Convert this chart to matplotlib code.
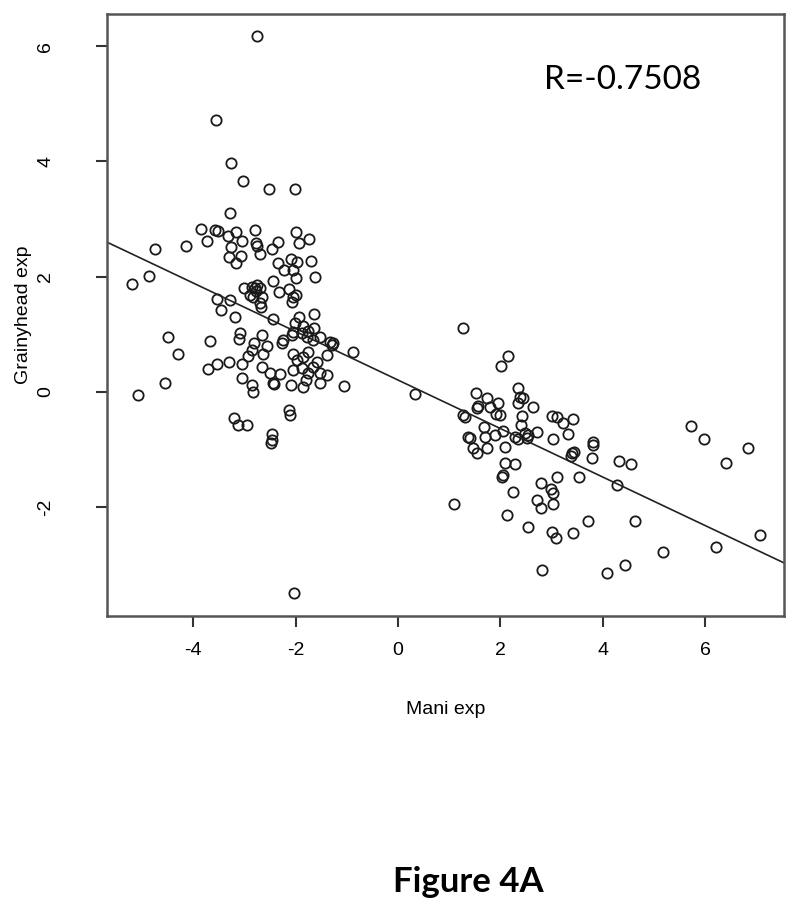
import matplotlib
matplotlib.use("Agg")
from matplotlib import pyplot as plt

# values
mani_exp = [
    -2.75, -3.55, -3.26, -3.03, -2.52, -2.01, -3.28, -3.85, -3.57, -3.52,
    -3.73, -3.32, -3.16, -3.05, -3.26, -2.79, -2.77, -2.75, -2.70, -3.30,
    -3.07, -3.16, -2.34, -2.46, -1.99, -1.93, -1.74, -2.34, -2.23, -2.09,
    -1.97, -2.05, -1.70, -1.99, -1.62, -4.75, -4.14, -5.20, -4.86, -2.44,
    -3.01, -2.79, -2.75, -2.70, -2.77, -2.66, -2.70, -2.68, -2.83, -2.32,
    -2.13, -2.05, -1.99, -2.07, -3.54, -3.28, -3.46, -3.18, -2.44, -1.64,
    -1.93, -2.01, -1.86, -1.76, -1.64, -1.88, -1.78, -1.66, -1.52, -1.33,
    -1.29, -2.05, -2.07, -1.27, -0.88, -1.05, -4.49, -4.30, -4.55, -5.08,
    -3.67, -3.09, -3.10, -2.66, -2.81, -2.27, -2.25, -2.56, -2.85, -2.64,
    -2.93, -2.05, -1.97, -1.86, -1.76, -1.58, -1.39, -3.71, -3.54, -3.30,
    -3.05, -2.66, -2.50, -2.30, -2.05, -1.88, -1.76, -1.66, -1.52, -1.39,
    -3.05, -2.85, -2.83, -2.44, -2.42, -2.09, -1.86, -1.80, -1.52, -2.13,
    -2.11, -3.20, -3.12, -2.95, -2.46, -2.48, -2.46, -2.03, -2.90, -2.85,
    0.33, 1.27, 2.15, 2.01, 1.52, 1.74, 1.56, 1.54, 1.80, 1.95,
    1.91, 1.99, 2.34, 2.38, 2.44, 2.34, 2.64, 2.42, 2.40, 1.27,
    1.31, 1.68, 1.37, 1.41, 1.70, 1.89, 2.05, 2.29, 2.34, 2.48,
    2.54, 2.52, 2.71, 1.46, 1.54, 1.74, 2.09, 3.01, 3.11, 3.22,
    3.42, 3.32, 3.03, 3.40, 3.44, 3.38, 2.09, 2.29, 2.03, 2.05,
    2.25, 2.79, 3.11, 2.99, 3.03, 2.71, 2.79, 3.03, 1.09, 2.13,
    2.54, 3.54, 3.81, 3.81, 3.79, 4.32, 4.55, 5.72, 5.98, 6.84,
    6.41, 4.28, 3.71, 4.63, 3.01, 3.09, 3.42, 5.18, 6.21, 7.07,
    4.43, 4.08, 2.81,
]
grainyhead_exp = [
    6.18, 4.72, 3.98, 3.66, 3.53, 3.53, 3.11, 2.83, 2.81, 2.80,
    2.62, 2.71, 2.78, 2.62, 2.52, 2.81, 2.59, 2.54, 2.40, 2.35,
    2.36, 2.24, 2.60, 2.48, 2.78, 2.59, 2.66, 2.24, 2.12, 2.31,
    2.26, 2.12, 2.27, 1.98, 2.00, 2.48, 2.53, 1.88, 2.01, 1.93,
    1.81, 1.81, 1.86, 1.80, 1.76, 1.65, 1.55, 1.48, 1.65, 1.74,
    1.79, 1.65, 1.68, 1.56, 1.62, 1.60, 1.42, 1.30, 1.27, 1.35,
    1.30, 1.20, 1.15, 1.06, 1.11, 1.02, 0.96, 0.90, 0.96, 0.87,
    0.82, 1.04, 0.99, 0.85, 0.69, 0.10, 0.96, 0.66, 0.16, -0.05,
    0.89, 1.03, 0.92, 0.99, 0.85, 0.85, 0.90, 0.80, 0.73, 0.66,
    0.63, 0.66, 0.56, 0.61, 0.69, 0.52, 0.64, 0.40, 0.49, 0.52,
    0.49, 0.44, 0.33, 0.31, 0.38, 0.41, 0.32, 0.44, 0.33, 0.29,
    0.24, 0.12, 0.00, 0.16, 0.13, 0.12, 0.09, 0.21, 0.16, -0.31,
    -0.40, -0.45, -0.57, -0.57, -0.73, -0.89, -0.83, -3.49, 1.68, 1.82,
    -0.03, 1.11, 0.63, 0.45, -0.02, -0.10, -0.24, -0.28, -0.26, -0.19,
    -0.38, -0.40, 0.07, -0.09, -0.10, -0.19, -0.26, -0.42, -0.57, -0.40,
    -0.43, -0.61, -0.78, -0.80, -0.78, -0.75, -0.68, -0.78, -0.82, -0.71,
    -0.75, -0.80, -0.69, -0.97, -1.06, -0.97, -0.95, -0.42, -0.43, -0.54,
    -0.47, -0.73, -0.82, -1.06, -1.04, -1.11, -1.23, -1.25, -1.48, -1.44,
    -1.74, -1.58, -1.48, -1.68, -1.75, -1.88, -2.01, -1.94, -1.94, -2.14,
    -2.34, -1.48, -0.87, -0.92, -1.15, -1.20, -1.25, -0.59, -0.82, -0.97,
    -1.23, -1.61, -2.24, -2.24, -2.43, -2.53, -2.45, -2.78, -2.69, -2.48,
    -3.00, -3.14, -3.09,
]

# regression line as drawn in the picture
fit_slope = -0.421
fit_intercept = 0.206
r_label = "R=-0.7508"

x_ticks = [-4, -2, 0, 2, 4, 6]
y_ticks = [-2, 0, 2, 4, 6]

fig = plt.figure(figsize=(8, 9.13), dpi=100)
ax = fig.add_axes([0.134, 0.3253, 0.846, 0.6594])

ax.plot(mani_exp, grainyhead_exp, linestyle="none", marker="o",
        markersize=7.4, markerfacecolor="none", markeredgecolor="#1a1a1a",
        markeredgewidth=1.3)
ax.axline((0, fit_intercept), slope=fit_slope, color="#222222", linewidth=1.2)

ax.set_xlim(-5.68, 7.54)
ax.set_ylim(-3.89, 6.56)
ax.set_xticks(x_ticks)
ax.set_yticks(y_ticks)
ax.set_xticklabels([str(t) for t in x_ticks])
ax.set_yticklabels([str(t) for t in y_ticks], rotation=90, va="center")

for s in ax.spines.values():
    s.set_color("#555555")
    s.set_linewidth(1.8)

ax.tick_params(direction="out", length=8, width=1.5, color="#333333",
               labelsize=14)
ax.tick_params(axis="x", pad=11)
ax.tick_params(axis="y", pad=30)

font = "Liberation Sans"
for lab in ax.get_xticklabels() + ax.get_yticklabels():
    lab.set_family(font)

ax.set_xlabel("Mani exp", fontsize=14, family=font, labelpad=30)
ax.set_ylabel("Grainyhead exp", fontsize=14, family=font, labelpad=4)

ax.text(0.762, 0.89, r_label, transform=ax.transAxes, ha="center", va="center",
        fontsize=24, family="Lato")

fig.text(0.585, 0.034, "Figure 4A", ha="center", va="center", fontsize=25,
         family="Lato", fontweight="bold")

fig.savefig("out.png", dpi=100)
